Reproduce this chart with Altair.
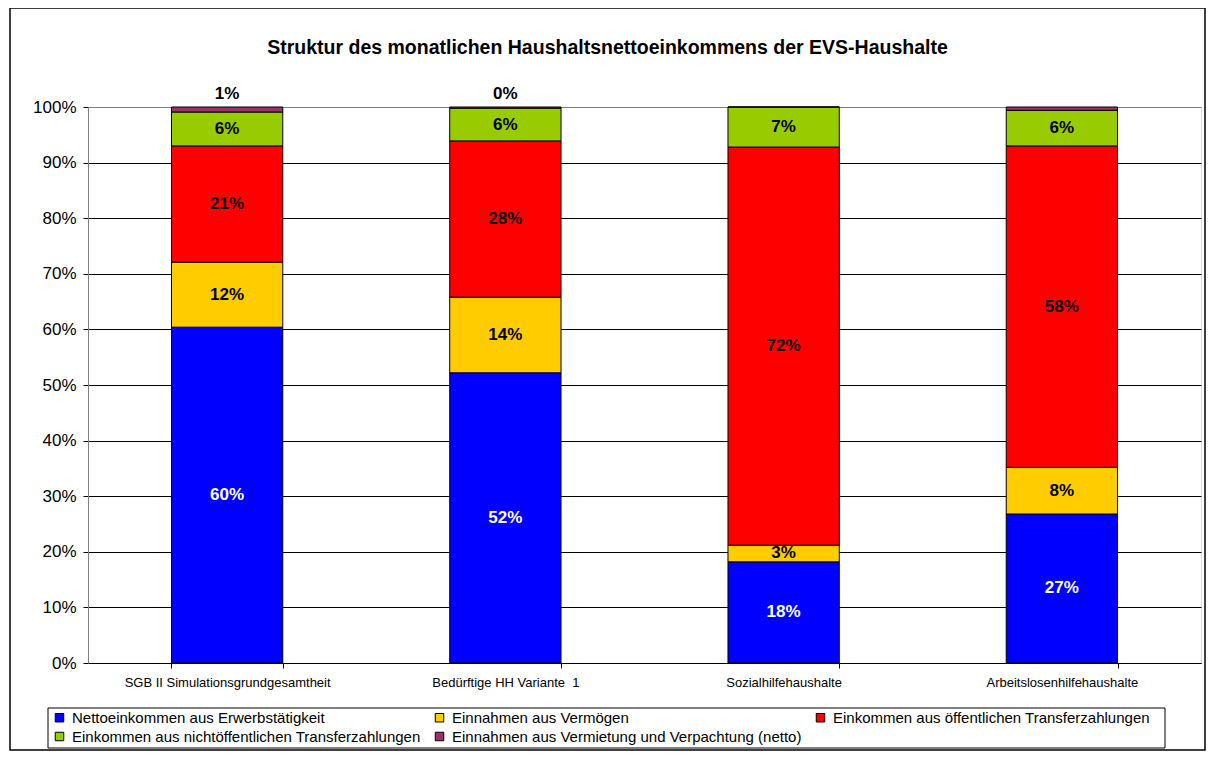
import altair as alt
import pandas as pd

title_text = "Struktur des monatlichen Haushaltsnettoeinkommens der EVS-Haushalte"
categories = ["SGB II Simulationsgrundgesamtheit", "Bedürftige HH Variante \u00a01",
              "Sozialhilfehaushalte", "Arbeitslosenhilfehaushalte"]
series = ["Nettoeinkommen aus Erwerbstätigkeit", "Einnahmen aus Vermögen",
          "Einkommen aus öffentlichen Transferzahlungen",
          "Einkommen aus nichtöffentlichen Transferzahlungen",
          "Einnahmen aus Vermietung und Verpachtung (netto)"]
colors = ["#0000FF", "#FFCC00", "#FF0000", "#99CC00", "#993366"]

erwerb = [60.4, 52.2, 18.2, 26.8]
vermoegen = [11.7, 13.6, 3.0, 8.4]
oeffentlich = [20.9, 28.1, 71.6, 57.8]
nichtoeff = [6.1, 5.9, 7.2, 6.4]
vermietung = [0.9, 0.2, 0.0, 0.6]
top_label_categories = categories[:2]
y_ticks = [0, 10, 20, 30, 40, 50, 60, 70, 80, 90, 100]

values = [erwerb, vermoegen, oeffentlich, nichtoeff, vermietung]
rows = []
for i, cat in enumerate(categories):
    cum = 0.0
    for j, s in enumerate(series):
        v = values[j][i]
        rows.append({"category": cat, "series": s, "order": j, "value": v,
                     "frac": v / 100.0, "y0": cum, "y1": cum + v,
                     "mid": cum + v / 2.0,
                     "show_top": cat in top_label_categories})
        cum += v
df = pd.DataFrame(rows)

FONT = "Liberation Sans"

x_enc = alt.X("category:N", sort=categories,
              scale=alt.Scale(paddingInner=0.6, paddingOuter=0.3),
              axis=alt.Axis(title=None, tickBand="extent", labelAngle=0,
                            labelFontSize=13, labelFont=FONT, labelColor="black",
                            domainColor="black", tickColor="black", tickSize=5,
                            labelPadding=8, grid=False, labelLimit=400))
y_scale = alt.Scale(domain=[0, 100], nice=False)

base = alt.Chart(df)

bars = base.mark_bar(stroke="black", strokeWidth=1).encode(
    x=x_enc,
    y=alt.Y("y0:Q", scale=y_scale,
            axis=alt.Axis(values=y_ticks, labelExpr="datum.value + '%'", title=None,
                          grid=True,
                          gridColor={"condition": {"test": "datum.value === 100", "value": "#808080"},
                                     "value": "black"},
                          domainColor="#808080", tickColor="black", tickSize=5,
                          labelPadding=7, labelFontSize=17, labelFont=FONT,
                          labelColor="black")),
    y2="y1:Q",
    color=alt.Color("series:N", sort=series,
                    scale=alt.Scale(domain=series, range=colors),
                    legend=alt.Legend(title=None, orient="none", legendX=-36, legendY=603,
                                      columns=3, direction="horizontal",
                                      symbolType="square", symbolSize=72,
                                      symbolStrokeColor="black", symbolStrokeWidth=1,
                                      symbolOpacity=1,
                                      labelFontSize=15, labelFont=FONT, labelColor="black",
                                      labelLimit=600, labelOffset=5,
                                      columnPadding=11, rowPadding=3, padding=0)),
    order=alt.Order("order:Q"),
)

inner = base.transform_filter(
    "datum.order < 4"
).mark_text(fontWeight="bold", fontSize=17, font=FONT, baseline="middle").encode(
    x=alt.X("category:N", sort=categories),
    y=alt.Y("mid:Q", scale=y_scale),
    text=alt.Text("frac:Q", format=".0%"),
    color=alt.condition("datum.order == 0", alt.value("white"), alt.value("black")),
)

top = base.transform_filter(
    "datum.order == 4 && datum.show_top"
).mark_text(fontWeight="bold", fontSize=17, font=FONT, baseline="middle", dy=-13,
            color="black").encode(
    x=alt.X("category:N", sort=categories),
    y=alt.Y("y1:Q", scale=y_scale),
    text=alt.Text("frac:Q", format=".0%"),
)

title = alt.Chart(pd.DataFrame({"t": [title_text]})).mark_text(
    fontWeight="bold", fontSize=19.5, font=FONT, color="black", baseline="middle"
).encode(text="t:N", x=alt.value(519.5), y=alt.value(-59))

frame = alt.Chart(pd.DataFrame({"a": [0]})).mark_rect(
    fillOpacity=0, stroke="black", strokeWidth=1.5
).encode(x=alt.value(-78), x2=alt.value(1117), y=alt.value(-99), y2=alt.value(643))

legend_box = alt.Chart(pd.DataFrame({"a": [0]})).mark_rect(
    fillOpacity=0, stroke="black", strokeWidth=1
).encode(x=alt.value(-40), x2=alt.value(1077), y=alt.value(601), y2=alt.value(641))

chart = alt.layer(bars, inner, top, title, frame, legend_box).properties(
    width=1113, height=556,
    autosize=alt.AutoSizeParams(type="none"),
    padding={"left": 80, "top": 99, "right": 6, "bottom": 90},
).configure_view(stroke="#808080", strokeWidth=1).configure(background="white")

chart.save("out.html", embed_options={"renderer": "svg", "actions": False})
